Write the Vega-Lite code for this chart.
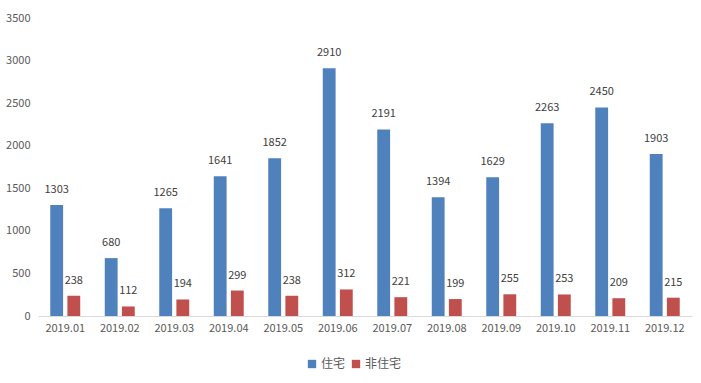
{
  "$schema": "https://vega.github.io/schema/vega-lite/v6.json",
  "width": 654,
  "height": 298,
  "padding": {"left": 5, "top": 12, "right": 10, "bottom": 8},
  "background": "white",
  "config": {
    "view": {"stroke": null},
    "font": "Noto Sans CJK SC",
    "text": {"font": "Noto Sans CJK SC"}
  },
  "data": {
    "values": [
      {"month": "2019.01", "type": "住宅", "value": 1303},
      {"month": "2019.02", "type": "住宅", "value": 680},
      {"month": "2019.03", "type": "住宅", "value": 1265},
      {"month": "2019.04", "type": "住宅", "value": 1641},
      {"month": "2019.05", "type": "住宅", "value": 1852},
      {"month": "2019.06", "type": "住宅", "value": 2910},
      {"month": "2019.07", "type": "住宅", "value": 2191},
      {"month": "2019.08", "type": "住宅", "value": 1394},
      {"month": "2019.09", "type": "住宅", "value": 1629},
      {"month": "2019.10", "type": "住宅", "value": 2263},
      {"month": "2019.11", "type": "住宅", "value": 2450},
      {"month": "2019.12", "type": "住宅", "value": 1903},
      {"month": "2019.01", "type": "非住宅", "value": 238},
      {"month": "2019.02", "type": "非住宅", "value": 112},
      {"month": "2019.03", "type": "非住宅", "value": 194},
      {"month": "2019.04", "type": "非住宅", "value": 299},
      {"month": "2019.05", "type": "非住宅", "value": 238},
      {"month": "2019.06", "type": "非住宅", "value": 312},
      {"month": "2019.07", "type": "非住宅", "value": 221},
      {"month": "2019.08", "type": "非住宅", "value": 199},
      {"month": "2019.09", "type": "非住宅", "value": 255},
      {"month": "2019.10", "type": "非住宅", "value": 253},
      {"month": "2019.11", "type": "非住宅", "value": 209},
      {"month": "2019.12", "type": "非住宅", "value": 215}
    ]
  },
  "encoding": {
    "x": {
      "field": "month", "type": "nominal", "title": null,
      "scale": {"paddingInner": 0.45, "paddingOuter": 0.225},
      "axis": {"labelAngle": 0, "labelFontSize": 11, "labelColor": "#595959", "ticks": false, "domainColor": "#d9d9d9", "labelPadding": 6, "grid": false}
    },
    "xOffset": {"field": "type", "type": "nominal", "scale": {"paddingInner": 0.25, "paddingOuter": 0}},
    "y": {
      "field": "value", "type": "quantitative", "title": null,
      "scale": {"domain": [0, 3500], "nice": false},
      "axis": {"values": [0, 500, 1000, 1500, 2000, 2500, 3000, 3500], "format": "d", "grid": false, "domain": false, "ticks": false, "labelFontSize": 11, "labelColor": "#595959", "labelPadding": 8}
    }
  },
  "layer": [
    {
      "mark": {"type": "bar"},
      "encoding": {
        "color": {
          "field": "type", "type": "nominal", "title": null,
          "sort": ["住宅", "非住宅"],
          "scale": {"domain": ["住宅", "非住宅"], "range": ["#4F81BD", "#C0504D"]},
          "legend": {"orient": "none", "legendX": 268, "legendY": 340, "direction": "horizontal", "symbolType": "square", "symbolSize": 70, "symbolStrokeWidth": 0, "labelFontSize": 12, "labelColor": "#595959", "columnPadding": 4, "labelOffset": 3}
        }
      }
    },
    {
      "mark": {"type": "text", "baseline": "bottom", "dy": -10, "fontSize": 11, "color": "#404040"},
      "encoding": {"text": {"field": "value", "type": "quantitative"}}
    }
  ]
}
